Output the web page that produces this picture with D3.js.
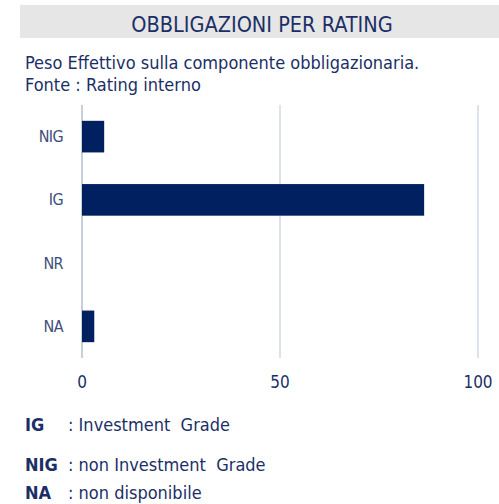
<!DOCTYPE html>
<html>
<head>
<meta charset="utf-8">
<script src="https://cdn.jsdelivr.net/npm/d3@7"></script>
<style>
  body { margin: 0; background: #fff; }
  text { font-family: "DejaVu Sans Condensed", "DejaVu Sans", sans-serif; }
</style>
</head>
<body>
<div id="svgcontainer"></div>
<script>
// data
var categories = ["NIG", "IG", "NR", "NA"];
var values = [5.6, 86.4, 0, 3.1];
var tickValues = [0, 50, 100];
var legendCodes = ["IG", "NIG", "NA"];
var legendTexts = [": Investment  Grade", ": non Investment  Grade", ": non disponibile"];

var W = 499, H = 504;
var navy = "#002060", textColor = "#1b2f66";

var svg = d3.select("#svgcontainer")
    .append("svg")
    .attr("width", W)
    .attr("height", H);

// header band
svg.append("rect")
    .attr("x", 20).attr("y", 5)
    .attr("width", W - 20).attr("height", 33)
    .attr("fill", "#e6e6e6");

svg.append("text")
    .attr("x", 262).attr("y", 32)
    .attr("text-anchor", "middle")
    .attr("fill", textColor)
    .style("font-size", "21.5px")
    .text("OBBLIGAZIONI PER RATING");

svg.append("text")
    .attr("x", 25).attr("y", 69)
    .attr("fill", textColor)
    .style("font-size", "18px")
    .text("Peso Effettivo sulla componente obbligazionaria.");

svg.append("text")
    .attr("x", 25).attr("y", 91)
    .attr("fill", textColor)
    .style("font-size", "18px")
    .text("Fonte : Rating interno");

/**
 * chart
 */
var x = d3.scaleLinear()
    .domain([0, 100])
    .range([82, 478]);

var y = d3.scaleBand()
    .domain(categories)
    .range([105, 358])
    .paddingInner(0.5)
    .paddingOuter(0.25);

// gridlines
svg.append("g")
    .selectAll("line")
    .data(tickValues)
    .join("line")
    .attr("x1", d => x(d)).attr("x2", d => x(d))
    .attr("y1", 105).attr("y2", 358)
    .attr("stroke", d => d === 0 ? "#b4c0cc" : "#c5d0dc")
    .attr("stroke-width", d => d === 0 ? 1.5 : 1.2);

svg.append("g")
    .selectAll("rect")
    .data(values)
    .join("rect")
    .attr("x", x(0))
    .attr("y", (d, i) => y(categories[i]))
    .attr("width", d => x(d) - x(0))
    .attr("height", y.bandwidth())
    .attr("fill", navy);

// category labels
svg.append("g")
    .selectAll("text")
    .data(categories)
    .join("text")
    .attr("x", 63)
    .attr("y", d => y(d) + y.bandwidth() / 2)
    .attr("dy", "0.35em")
    .attr("text-anchor", "end")
    .attr("fill", "#3d4f7c")
    .style("font-size", "16px")
    .style("letter-spacing", "-0.6px")
    .text(d => d);

// value ticks
svg.append("g")
    .selectAll("text")
    .data(tickValues)
    .join("text")
    .attr("x", d => x(d))
    .attr("y", 388)
    .attr("text-anchor", "middle")
    .attr("fill", textColor)
    .style("font-size", "17px")
    .text(d => d);

/**
 * legend notes
 */
var legendY = [431, 471, 499];
var notes = svg.append("g");
notes.selectAll(".code")
    .data(legendCodes)
    .join("text")
    .attr("class", "code")
    .attr("x", 25)
    .attr("y", (d, i) => legendY[i])
    .attr("fill", textColor)
    .style("font-size", "18px")
    .style("font-weight", "bold")
    .text(d => d);

notes.selectAll(".desc")
    .data(legendTexts)
    .join("text")
    .attr("class", "desc")
    .attr("x", 68)
    .attr("y", (d, i) => legendY[i])
    .attr("fill", textColor)
    .style("font-size", "18px")
    .style("white-space", "pre")
    .text(d => d);
</script>
</body>
</html>
